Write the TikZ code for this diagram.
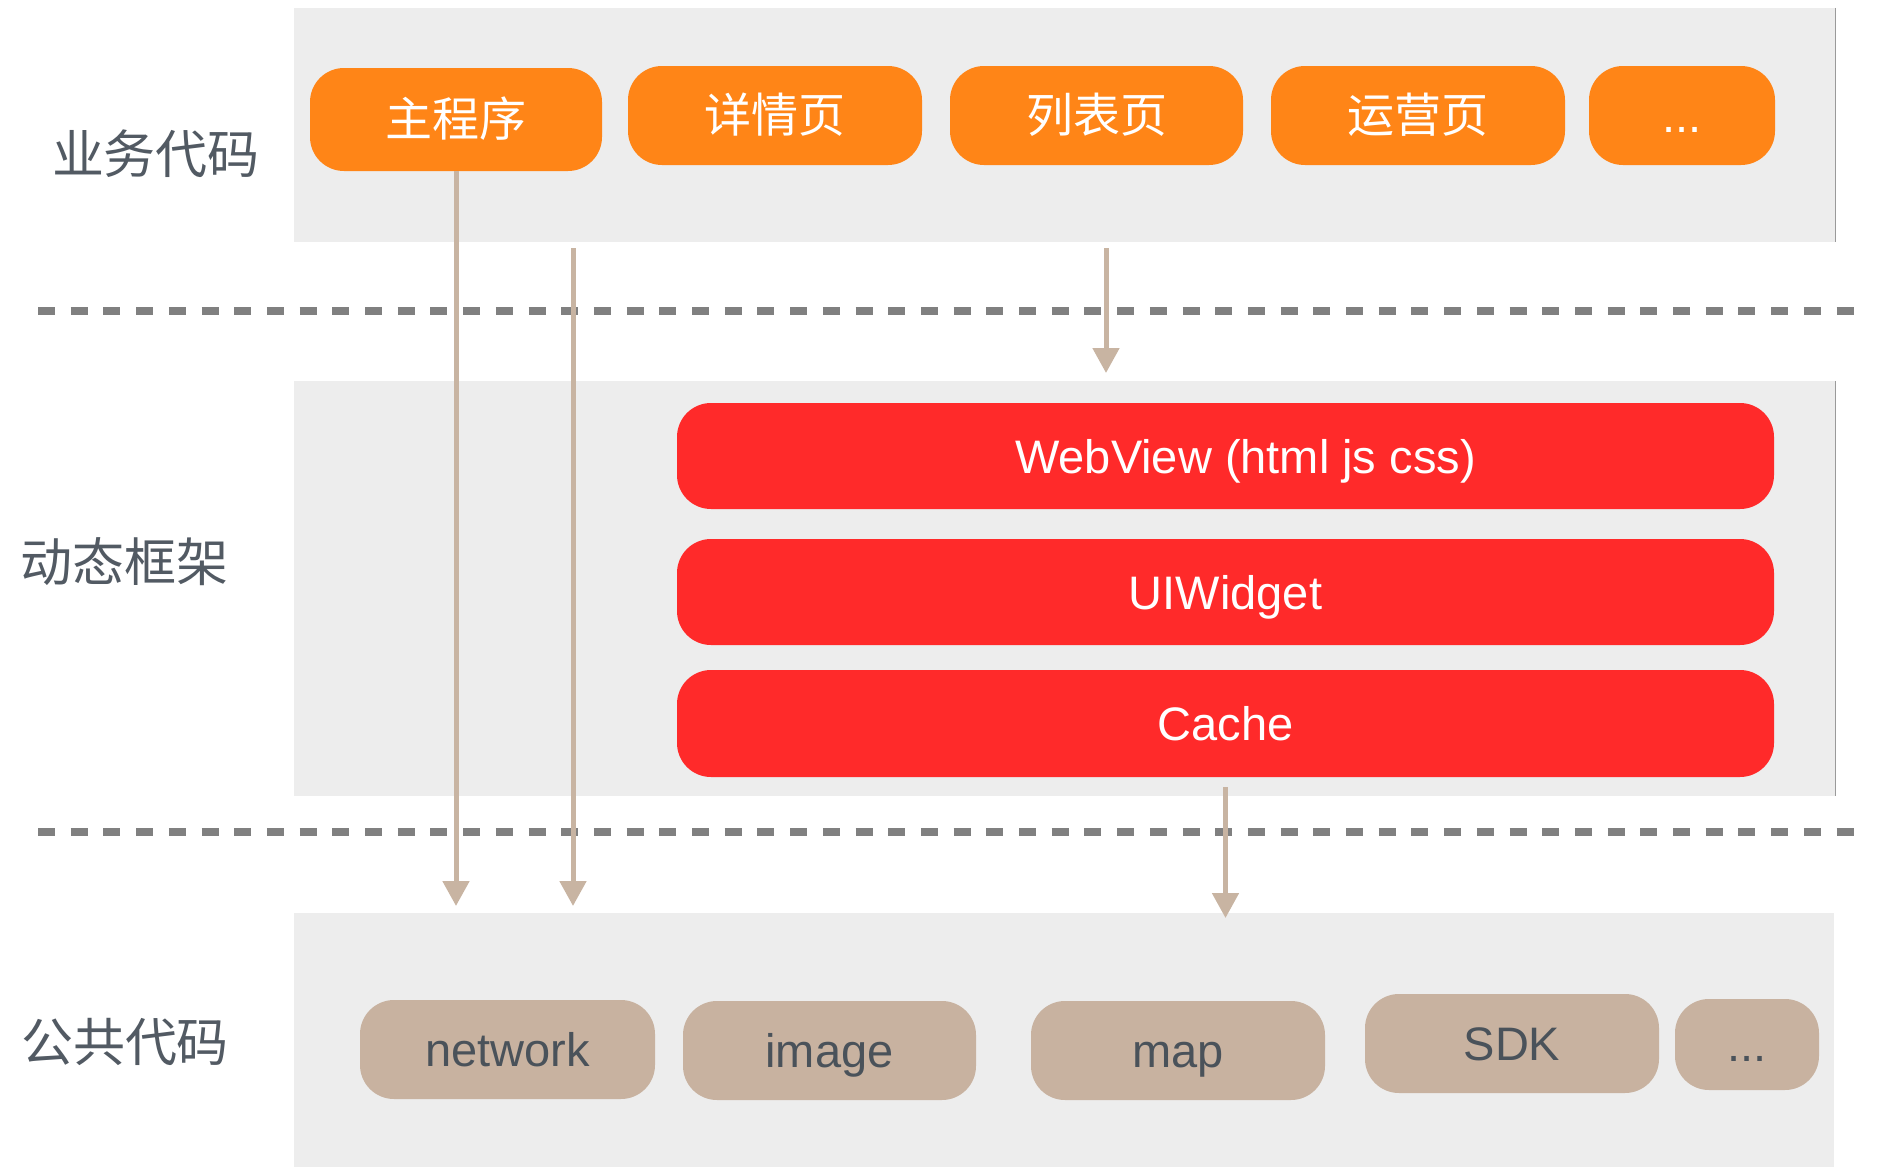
\documentclass[tikz,border=0pt]{standalone}
\usepackage{fontspec}
\setmainfont{Liberation Sans}
\newfontfamily\cjk{Noto Sans CJK SC}
\usetikzlibrary{arrows.meta}
\definecolor{panelgray}{HTML}{EDEDED}
\definecolor{orangebox}{HTML}{FF8517}
\definecolor{redbox}{HTML}{FF2A2A}
\definecolor{tanbox}{HTML}{C8B2A0}
\definecolor{arrowtan}{HTML}{C8B4A2}
\definecolor{sepgray}{HTML}{808080}
\definecolor{labelgray}{HTML}{525A63}
\definecolor{tantext}{HTML}{4A525A}
\definecolor{edgegray}{HTML}{9A9A9A}
\begin{document}
\begin{tikzpicture}[x=1pt,y=-1pt,
  panel/.style={fill=panelgray, draw=none, inner sep=0pt, rectangle},
  layerlabel/.style={font=\cjk\fontsize{52}{60}\selectfont, text=labelgray, inner sep=0pt},
  pill/.style={rounded corners=34pt, inner sep=0pt, minimum height=99pt,
    text height=34pt, text depth=0pt, font=\fontsize{47}{56}\selectfont},
  bizbox/.style={pill, fill=orangebox, text=white, font=\cjk\fontsize{47}{56}\selectfont},
  dynbox/.style={pill, fill=redbox, text=white, minimum width=1097pt, minimum height=106pt},
  pubbox/.style={pill, fill=tanbox, text=tantext},
  sepline/.style={draw=sepgray, line width=8pt, dash pattern=on 17pt off 15.7pt},
  flow/.style={draw=arrowtan, line width=5pt, -{Triangle[width=26pt,length=25pt]}}
]
\useasboundingbox (0,0) rectangle (1883,1167);

% panels
\node[panel, minimum width=1541pt, minimum height=234pt] (toppanel) at (1064.5,125) {};
\node[panel, minimum width=1541pt, minimum height=415pt] (midpanel) at (1064.5,588.5) {};
\node[panel, minimum width=1540pt, minimum height=254pt] (botpanel) at (1064,1040) {};
\draw[edgegray, line width=1pt] (toppanel.north east) -- (toppanel.south east);
\draw[edgegray, line width=1pt] (midpanel.north east) -- (midpanel.south east);

% separators
\draw[sepline] (38,311) -- (1868,311);
\draw[sepline] (38,832) -- (1868,832);

% layer labels
\node[layerlabel] (lblbiz) at (156,154) {业务代码};
\node[layerlabel] (lbldyn) at (124,562) {动态框架};
\node[layerlabel] (lblpub) at (125,1042) {公共代码};

% business boxes
\node[bizbox, minimum width=292pt, minimum height=103pt] (mainprog) at (456,119.5) {主程序};
\node[bizbox, minimum width=294pt] (detail) at (775,115.5) {详情页};
\node[bizbox, minimum width=293pt] (list) at (1096.5,115.5) {列表页};
\node[bizbox, minimum width=294pt] (ops) at (1418,115.5) {运营页};
\node[bizbox, minimum width=186pt, font=\fontsize{47}{56}\selectfont] (bizmore) at (1682,115.5) {...};

% dynamic framework boxes
\node[dynbox] (webview) at (1225.5,456) {\hspace*{40pt}WebView (html js css)};
\node[dynbox] (uiwidget) at (1225.5,592) {UIWidget};
\node[dynbox, minimum height=107pt] (cache) at (1225.5,723.5) {Cache};

% public boxes
\node[pubbox, minimum width=295pt] (network) at (507.5,1049.5) {network};
\node[pubbox, minimum width=293pt] (image) at (829.5,1050.5) {image};
\node[pubbox, minimum width=294pt] (map) at (1178,1050.5) {map};
\node[pubbox, minimum width=294pt] (sdk) at (1512,1043.5) {SDK};
\node[pubbox, minimum width=144pt, minimum height=91pt] (pubmore) at (1747,1044.5) {...};

% arrows
\coordinate (a1end) at (456,906);
\coordinate (a2start) at (573,248);
\coordinate (a2end) at (573,906);
\coordinate (a3start) at (1106,248);
\coordinate (a3end) at (1106,373);
\coordinate (a4start) at (1225.5,787);
\coordinate (a4end) at (1225.5,918);
\draw[flow] (mainprog.south) -- (a1end);
\draw[flow] (a2start) -- (a2end);
\draw[flow] (a3start) -- (a3end);
\draw[flow] (a4start) -- (a4end);
\end{tikzpicture}
\end{document}
